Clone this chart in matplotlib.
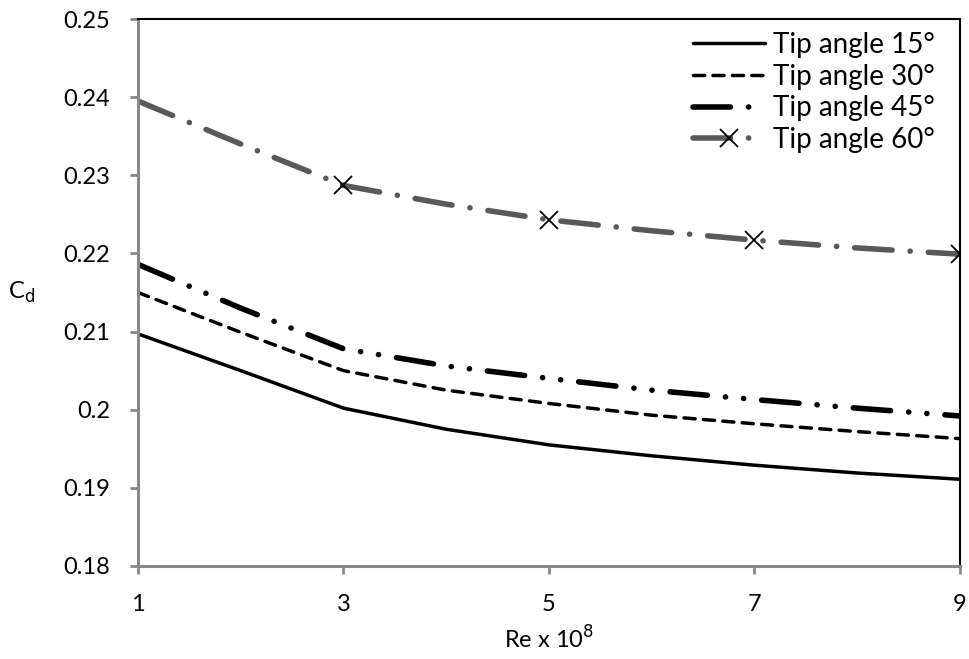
import numpy as np
import matplotlib.pyplot as plt

plt.rcParams['font.family'] = ['Lato', 'DejaVu Sans']
plt.rcParams['lines.scale_dashes'] = False

# data
re_vals = [1, 2, 3, 4, 5, 6, 7, 8, 9]
cd_15 = [0.2097, 0.2050, 0.2002, 0.1975, 0.1955, 0.1941, 0.1929, 0.1919, 0.1911]
cd_30 = [0.2150, 0.2099, 0.2050, 0.2025, 0.2008, 0.1993, 0.1982, 0.1972, 0.1963]
cd_45 = [0.2186, 0.2130, 0.2078, 0.2056, 0.2040, 0.2025, 0.2013, 0.2002, 0.1992]
cd_60 = [0.2395, 0.2340, 0.2287, 0.2263, 0.2243, 0.2229, 0.2217, 0.2207, 0.2199]
labels = ['Tip angle 15°', 'Tip angle 30°', 'Tip angle 45°', 'Tip angle 60°']
x_ticks = [1, 3, 5, 7, 9]
y_ticks = [0.18, 0.19, 0.2, 0.21, 0.22, 0.23, 0.24, 0.25]
y_ticklabels = ['0.18', '0.19', '0.2', '0.21', '0.22', '0.23', '0.24', '0.25']

fig = plt.figure(figsize=(9.7, 6.59), dpi=100)
ax = fig.add_axes([138 / 970, 1 - 566 / 659, (960 - 138) / 970, (566 - 19) / 659])

ax.plot(re_vals, cd_15, color='black', lw=2.5, solid_capstyle='round', label=labels[0])
ax.plot(re_vals, cd_30, color='black', lw=2.5, dashes=(8, 6), dash_capstyle='round', label=labels[1])
ax.plot(re_vals, cd_45, color='black', lw=4, dashes=(27, 13, 0.1, 13, 0.1, 13),
        dash_capstyle='round', label=labels[2])
ax.plot(re_vals, cd_60, color='#595959', lw=4, dashes=(27, 13, 0.1, 13),
        dash_capstyle='round', marker='x', markersize=13, markeredgecolor='black',
        markeredgewidth=1.3, markevery=[2, 4, 6, 8], label=labels[3])

ax.set_xlim(1, 9)
ax.set_ylim(0.18, 0.25)
ax.set_xticks(x_ticks)
ax.set_yticks(y_ticks)
ax.set_yticklabels(y_ticklabels)
ax.tick_params(axis='both', labelsize=17, color='#888888', width=2, length=6, direction='out')
ax.tick_params(axis='x', pad=14)
ax.tick_params(axis='y', pad=14)

for side in ['left', 'bottom']:
    ax.spines[side].set_color('#888888')
    ax.spines[side].set_linewidth(2.2)
for side in ['top', 'right']:
    ax.spines[side].set_color('black')
    ax.spines[side].set_linewidth(1.5)

ax.set_xlabel('Re x 10$^{8}$', fontsize=17, labelpad=8)
ax.set_ylabel('C$_{\\mathrm{d}}$', fontsize=17, rotation=0, labelpad=30, va='center')

leg = ax.legend(loc='upper right', frameon=False, fontsize=20, handlelength=2.6,
                handletextpad=0.3, labelspacing=0.2, borderpad=0, borderaxespad=0,
                bbox_to_anchor=(0.97, 0.976))

fig.savefig('out.png', dpi=100)
